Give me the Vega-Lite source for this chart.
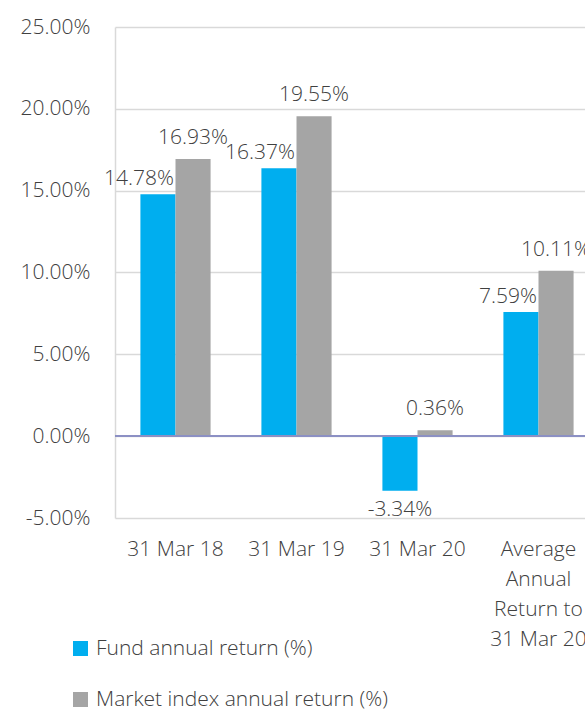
{
  "$schema": "https://vega.github.io/schema/vega-lite/v6.json",
  "autosize": {"type": "none"},
  "padding": {"left": 115, "top": 27, "right": 0, "bottom": 191},
  "width": 470,
  "height": 491,
  "background": "white",
  "config": {
    "view": {"stroke": null},
    "font": "Open Sans",
    "locale": {"number": {"decimal": ".", "thousands": ",", "grouping": [3], "currency": ["$", ""], "minus": "-"}}
  },
  "data": {
    "values": [
      {"period": "31 Mar 18", "series": "Fund annual return (%)", "value": 0.1478},
      {"period": "31 Mar 18", "series": "Market index annual return (%)", "value": 0.1693},
      {"period": "31 Mar 19", "series": "Fund annual return (%)", "value": 0.1637},
      {"period": "31 Mar 19", "series": "Market index annual return (%)", "value": 0.1955},
      {"period": "31 Mar 20", "series": "Fund annual return (%)", "value": -0.0334},
      {"period": "31 Mar 20", "series": "Market index annual return (%)", "value": 0.0036},
      {"period": "Average Annual Return to 31 Mar 20", "series": "Fund annual return (%)", "value": 0.0759},
      {"period": "Average Annual Return to 31 Mar 20", "series": "Market index annual return (%)", "value": 0.1011}
    ]
  },
  "layer": [
    {
      "mark": {"type": "bar"},
      "encoding": {
        "x": {
          "field": "period", "type": "nominal", "sort": null,
          "scale": {"range": [0, 484], "paddingInner": 0.42, "paddingOuter": 0.21},
          "axis": {
            "orient": "bottom", "domain": false, "ticks": false, "grid": false,
            "labelAngle": 0, "labelFontSize": 21, "labelFontWeight": 300, "labelColor": "#404040",
            "labelPadding": 20, "labelBaseline": "top", "labelLineHeight": 30,
            "labelLimit": 0, "labelOverlap": false, "title": null,
            "labelExpr": "datum.value == 'Average Annual Return to 31 Mar 20' ? ['Average', 'Annual', 'Return to', '31 Mar 20'] : datum.value"
          }
        },
        "xOffset": {"field": "series", "sort": null},
        "y": {
          "field": "value", "type": "quantitative",
          "scale": {"domain": [-0.05, 0.25], "nice": false, "zero": false},
          "axis": {
            "values": [-0.05, 0, 0.05, 0.1, 0.15, 0.2, 0.25],
            "format": ".2%", "labelFontSize": 21, "labelFontWeight": 300, "labelColor": "#404040",
            "ticks": false, "labelPadding": 25, "domainColor": "#d9d9d9", "domainWidth": 1.5,
            "gridColor": "#d9d9d9", "gridWidth": 1.5, "title": null
          }
        },
        "color": {
          "field": "series", "type": "nominal",
          "scale": {"domain": ["Fund annual return (%)", "Market index annual return (%)"], "range": ["#00AEEF", "#A5A5A5"]},
          "legend": {
            "orient": "none", "legendX": -45, "legendY": 611, "direction": "vertical",
            "symbolType": "square", "symbolSize": 225, "symbolStrokeWidth": 0,
            "labelFontSize": 21, "labelFontWeight": 300, "labelColor": "#404040", "rowPadding": 29,
            "labelOffset": 5, "title": null, "labelLimit": 0
          }
        }
      }
    },
    {
      "mark": {"type": "rule", "color": "#8c90c4", "strokeWidth": 1.5},
      "encoding": {"y": {"datum": 0, "type": "quantitative"}}
    },
    {
      "transform": [{"filter": "datum.series == 'Fund annual return (%)' && datum.value >= 0"}],
      "mark": {"type": "text", "fontSize": 21, "fontWeight": 300, "color": "#404040", "align": "right", "baseline": "alphabetic", "dx": 16, "dy": -9},
      "encoding": {
        "x": {"field": "period", "type": "nominal", "sort": null},
        "xOffset": {"field": "series", "sort": null, "scale": {"domain": ["Fund annual return (%)", "Market index annual return (%)"]}},
        "y": {"field": "value", "type": "quantitative"},
        "text": {"field": "value", "type": "quantitative", "format": ".2%"}
      }
    },
    {
      "transform": [{"filter": "datum.series == 'Market index annual return (%)' && datum.value >= 0"}],
      "mark": {"type": "text", "fontSize": 21, "fontWeight": 300, "color": "#404040", "align": "center", "baseline": "alphabetic", "dy": -15},
      "encoding": {
        "x": {"field": "period", "type": "nominal", "sort": null},
        "xOffset": {"field": "series", "sort": null, "scale": {"domain": ["Fund annual return (%)", "Market index annual return (%)"]}},
        "y": {"field": "value", "type": "quantitative"},
        "text": {"field": "value", "type": "quantitative", "format": ".2%"}
      }
    },
    {
      "transform": [{"filter": "datum.value < 0"}],
      "mark": {"type": "text", "fontSize": 21, "fontWeight": 300, "color": "#404040", "align": "center", "baseline": "alphabetic", "dy": 25},
      "encoding": {
        "x": {"field": "period", "type": "nominal", "sort": null},
        "xOffset": {"field": "series", "sort": null, "scale": {"domain": ["Fund annual return (%)", "Market index annual return (%)"]}},
        "y": {"field": "value", "type": "quantitative"},
        "text": {"field": "value", "type": "quantitative", "format": ".2%"}
      }
    }
  ]
}
